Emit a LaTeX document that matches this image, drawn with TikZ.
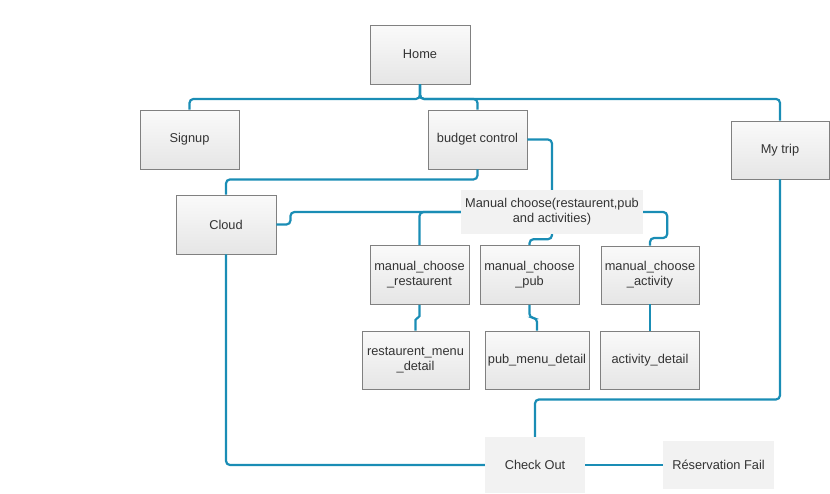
\documentclass[tikz,border=0pt]{standalone}
\usepackage{fontspec}
\setmainfont{Liberation Sans}
\usetikzlibrary{positioning}
\definecolor{conn}{HTML}{1A8DB5}
\definecolor{boxline}{HTML}{808080}
\definecolor{txt}{HTML}{333333}
\definecolor{flat}{HTML}{F2F2F2}
\begin{document}
\begin{tikzpicture}[x=1pt,y=-1pt,
  every node/.style={font=\fontsize{12.8}{15}\selectfont, text=txt, align=center, inner sep=0pt},
  gbox/.style={draw=boxline, line width=0.9pt, top color=white!60!flat, bottom color=black!10},
  fbox/.style={fill=flat},
  link/.style={draw=conn, line width=2.2pt, rounded corners=4pt}]
\useasboundingbox (0,0) rectangle (830,493);
% nodes
\node[gbox, minimum width=100pt, minimum height=59pt] (home) at (420,54.5) {Home};
\node[gbox, minimum width=99pt, minimum height=59pt] (signup) at (189.5,139.5) {Signup};
\node[gbox, minimum width=99pt, minimum height=59pt] (budget) at (477.5,139.5) {budget control};
\node[gbox, minimum width=98pt, minimum height=58pt] (mytrip) at (780,150) {My trip};
\node[gbox, minimum width=100pt, minimum height=59pt] (cloud) at (226,224.5) {Cloud};
\node[fbox, minimum width=182pt, minimum height=44pt] (manual) at (552,212) {Manual choose(restaurent,pub\\and activities)};
\node[gbox, minimum width=99pt, minimum height=59pt] (mcr) at (419.5,275) {manual\_choose\\\_restaurent};
\node[gbox, minimum width=99pt, minimum height=59pt] (mcp) at (529.5,275) {manual\_choose\\\_pub};
\node[gbox, minimum width=98pt, minimum height=58pt] (mca) at (650,275) {manual\_choose\\\_activity};
\node[gbox, minimum width=107pt, minimum height=58pt] (rmd) at (415.5,360) {restaurent\_menu\\\_detail};
\node[gbox, minimum width=104pt, minimum height=58pt] (pmd) at (537,360) {pub\_menu\_detail};
\node[gbox, minimum width=99pt, minimum height=58pt] (ad) at (650,360) {activity\_detail};
\node[fbox, minimum width=100pt, minimum height=56pt] (checkout) at (535,465) {Check Out};
\node[fbox, minimum width=111pt, minimum height=48pt] (resfail) at (718.5,465) {Réservation Fail};
% connectors
\draw[link] (home.south) -- ++(0,14.5) -| (signup.north);
\draw[link] (home.south) -- ++(0,14.5) -| (budget.north);
\draw[link] (home.south) -- ++(0,14.5) -| (mytrip.north);
\draw[link] (budget.south) -- ++(0,10) -| (cloud.north);
\draw[link] (budget.east) -| (manual.north);
\draw[link] (cloud.east) -- ++(14,0) |- (manual.west);
\draw[link] (manual.west) -| (mcr.north);
\draw[link] (manual.south) -- ++(0,5) -| (mcp.north);
\draw[link] (manual.east) -- ++(24,0) -- ++(0,26) -| (mca.north);
\draw[link, rounded corners=1.9pt] (mcr.south) -- ++(0,13) -| (rmd.north);
\draw[link] (mcp.south) -- ++(0,13) -| (pmd.north);
\draw[link] (mca.south) -- (ad.north);
\draw[link] (mytrip.south) -- ++(0,220) -| (checkout.north);
\draw[link] (cloud.south) |- (checkout.west);
\draw[link] (checkout.east) -- (resfail.west);
\end{tikzpicture}
\end{document}
